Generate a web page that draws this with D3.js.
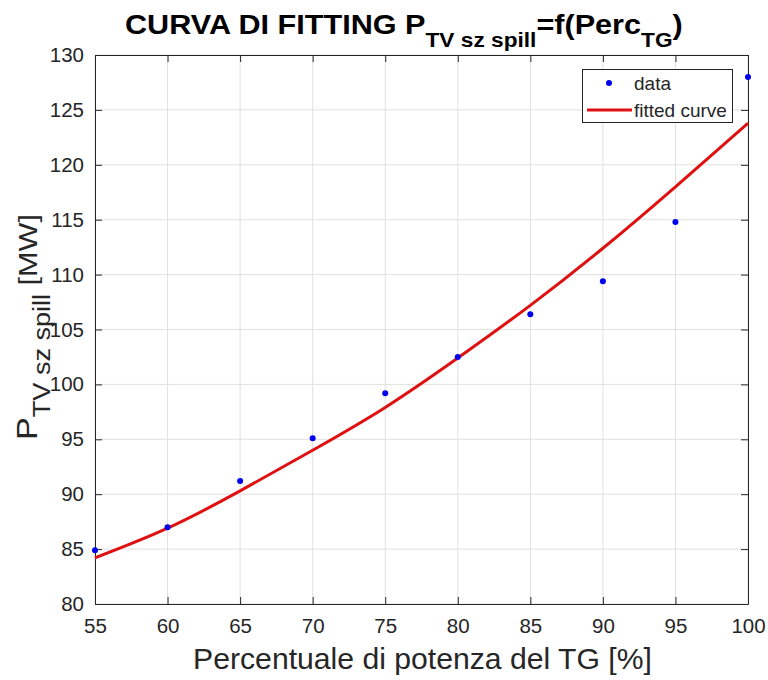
<!DOCTYPE html>
<html>
<head>
<meta charset="utf-8">
<script src="https://cdn.jsdelivr.net/npm/d3@7"></script>
<style>
  html, body { margin: 0; padding: 0; background: #fff; }
  svg { display: block; font-family: "Liberation Sans", Arial, Helvetica, sans-serif; }
</style>
</head>
<body>
<svg id="chart" width="768" height="680"></svg>
<script>
// Measured points: TV power without spill vs TG load percentage
const percTG = [55, 60, 65, 70, 75, 80, 85, 90, 95, 100];
const powerTV = [84.9, 87.0, 91.2, 95.1, 99.2, 102.5, 106.4, 109.4, 114.8, 128.0];

// Fitted curve, sampled at the same load steps
const fitPerc = [55, 60, 65, 70, 75, 80, 85, 90, 95, 100];
const fitPower = [84.2, 86.9, 90.3, 94.0, 97.9, 102.4, 107.2, 112.4, 118.0, 123.8];

// Axis ticks
const xTicks = [55, 60, 65, 70, 75, 80, 85, 90, 95, 100];
const yTicks = [80, 85, 90, 95, 100, 105, 110, 115, 120, 125, 130];

const legendLabels = ["data", "fitted curve"];

const svg = d3.select("#chart");
const m = { left: 95, right: 748, top: 55, bottom: 604 };
const axisColor = "#262626";
const gridColor = "#e0e0e0";
const curveColor = "#e01010";
const dotColor = "#0000ee";

const x = d3.scaleLinear().domain([55, 100]).range([m.left, m.right]);
const y = d3.scaleLinear().domain([80, 130]).range([m.bottom, m.top]);

// Stretch a text block along its own baseline so it spans the given width
function fitWidth(g, width) {
  const w = g.node().getBBox().width;
  const base = g.attr("transform") || "";
  g.attr("transform", `${base} scale(${width / w},1)`);
}

// Grid
const grid = svg.append("g");
grid.selectAll("line.gx").data(xTicks).join("line")
  .attr("x1", d => x(d)).attr("x2", d => x(d))
  .attr("y1", m.top).attr("y2", m.bottom)
  .attr("stroke", gridColor).attr("stroke-width", 1);
grid.selectAll("line.gy").data(yTicks).join("line")
  .attr("y1", d => y(d)).attr("y2", d => y(d))
  .attr("x1", m.left).attr("x2", m.right)
  .attr("stroke", gridColor).attr("stroke-width", 1);

// Axes with inward ticks on all four sides
const tickLen = 7;
const fmt = d3.format("d");
const bottomAxis = svg.append("g").attr("transform", `translate(0,${m.bottom})`)
  .call(d3.axisBottom(x).tickValues(xTicks).tickFormat(fmt).tickSizeInner(-tickLen).tickSizeOuter(0).tickPadding(14));
const leftAxis = svg.append("g").attr("transform", `translate(${m.left},0)`)
  .call(d3.axisLeft(y).tickValues(yTicks).tickFormat(fmt).tickSizeInner(-tickLen).tickSizeOuter(0).tickPadding(11));
const topAxis = svg.append("g").attr("transform", `translate(0,${m.top})`)
  .call(d3.axisTop(x).tickValues(xTicks).tickFormat("").tickSizeInner(-tickLen).tickSizeOuter(0));
const rightAxis = svg.append("g").attr("transform", `translate(${m.right},0)`)
  .call(d3.axisRight(y).tickValues(yTicks).tickFormat("").tickSizeInner(-tickLen).tickSizeOuter(0));

[bottomAxis, leftAxis, topAxis, rightAxis].forEach(g => {
  g.select(".domain").attr("stroke", axisColor).attr("stroke-width", 1);
  g.selectAll(".tick line").attr("stroke", axisColor).attr("stroke-width", 1);
  g.selectAll(".tick text").attr("fill", axisColor)
    .style("font-size", "20.5px").style("font-family", "\"Liberation Sans\", Arial, sans-serif");
});

// Fitted curve
const line = d3.line().x((d, i) => x(fitPerc[i])).y(d => y(d)).curve(d3.curveNatural);
svg.append("path").datum(fitPower)
  .attr("d", line)
  .attr("fill", "none").attr("stroke", curveColor).attr("stroke-width", 3);

// Data points
svg.selectAll("circle.pt").data(powerTV).join("circle")
  .attr("class", "pt")
  .attr("cx", (d, i) => x(percTG[i])).attr("cy", d => y(d))
  .attr("r", 3).attr("fill", dotColor);

// Legend
const lg = svg.append("g");
lg.append("rect").attr("x", 582.5).attr("y", 69.5).attr("width", 150).attr("height", 53)
  .attr("fill", "#fff").attr("stroke", axisColor).attr("stroke-width", 1);
lg.append("circle").attr("cx", 609).attr("cy", 83).attr("r", 3).attr("fill", dotColor);
lg.append("line").attr("x1", 587).attr("x2", 632).attr("y1", 110).attr("y2", 110)
  .attr("stroke", curveColor).attr("stroke-width", 3);
lg.selectAll("text").data(legendLabels).join("text")
  .attr("x", 634).attr("y", (d, i) => 90 + i * 27)
  .attr("fill", axisColor).style("font-size", "19px")
  .text(d => d);

// Title with subscripts
const titleG = svg.append("g").attr("transform", "translate(125,34)");
const title = titleG.append("text").attr("x", 0).attr("y", 0)
  .attr("fill", "#000").style("font-weight", "bold");
title.append("tspan").style("font-size", "27px").text("CURVA DI FITTING P");
title.append("tspan").style("font-size", "20px").attr("dy", 13).text("TV sz spill");
title.append("tspan").style("font-size", "27px").attr("dy", -13).text("=f(Perc");
title.append("tspan").style("font-size", "20px").attr("dy", 13).text("TG");
title.append("tspan").style("font-size", "27px").attr("dy", -13).text(")");
fitWidth(titleG, 558);

// X axis label
const xlG = svg.append("g").attr("transform", "translate(422.5,669)");
xlG.append("text").attr("text-anchor", "middle").attr("fill", axisColor)
  .style("font-size", "29px").text("Percentuale di potenza del TG [%]");
fitWidth(xlG, 459);

// Y axis label with subscript
const ylG = svg.append("g").attr("transform", "translate(37,327) rotate(-90)");
const yl = ylG.append("text").attr("text-anchor", "middle").attr("fill", axisColor);
yl.append("tspan").style("font-size", "29px").text("P");
yl.append("tspan").style("font-size", "23px").attr("dy", 13).text("TV sz spill");
yl.append("tspan").style("font-size", "26px").attr("dy", -13).text(" [MW]");
fitWidth(ylG, 226);
</script>
</body>
</html>
